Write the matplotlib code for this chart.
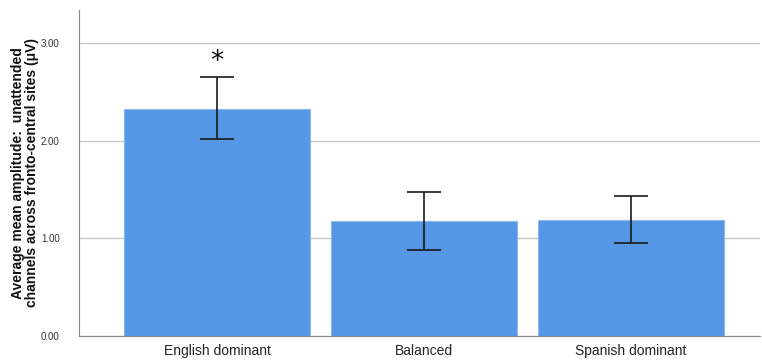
import numpy as np
import matplotlib
matplotlib.use('Agg')
import matplotlib.pyplot as plt

plt.rcParams['font.family'] = ['Liberation Sans', 'DejaVu Sans']

# group means and 95% CI bounds
groups = ['English dominant', 'Balanced', 'Spanish dominant']
means = [2.33, 1.18, 1.19]
ci_low = [2.02, 0.88, 0.955]
ci_high = [2.65, 1.48, 1.43]
signif = ['*', '', '']

x = np.arange(len(groups))
yerr = np.array([np.subtract(means, ci_low), np.subtract(ci_high, means)])

fig = plt.figure(figsize=(7.62, 3.62), dpi=100)
ax = fig.add_axes([0.1037, 0.0718, 0.8937, 0.9006])

ax.bar(x, means, width=0.9, color='#5596E5', edgecolor='#8DB8EE', linewidth=0.8, zorder=2)
ax.errorbar(x, means, yerr=yerr, fmt='none', ecolor='#1a1a1a', elinewidth=1.2,
            capsize=12, capthick=1.2, zorder=3)

for xi, hi, s in zip(x, ci_high, signif):
    if s:
        ax.text(xi, hi + 0.02, s, ha='center', va='bottom', fontsize=19,
                color='#111111', family='DejaVu Sans')

ax.set_xlim(-0.667, 2.623)
ax.set_ylim(0, 3.34)
ax.set_yticks([0, 1, 2, 3])
ax.set_yticklabels(['0.00', '1.00', '2.00', '3.00'], fontsize=7, color='#333333')
ax.set_xticks(x)
ax.set_xticklabels(groups, fontsize=10, color='#222222')
ax.tick_params(axis='both', length=0)
ax.tick_params(axis='y', pad=14)
ax.tick_params(axis='x', pad=6)

ax.grid(axis='y', color='#c8c8c8', linewidth=1, zorder=0)
ax.set_axisbelow(True)
for side in ['top', 'right']:
    ax.spines[side].set_visible(False)
ax.spines['left'].set_color('#888888')
ax.spines['bottom'].set_color('#888888')

ax.set_ylabel('Average mean amplitude:  unattended\nchannels across fronto-central sites (\u03bcV)',
              fontsize=10, fontweight='bold', color='#111111', labelpad=1, linespacing=1.0)

fig.savefig('out.png', dpi=100)
